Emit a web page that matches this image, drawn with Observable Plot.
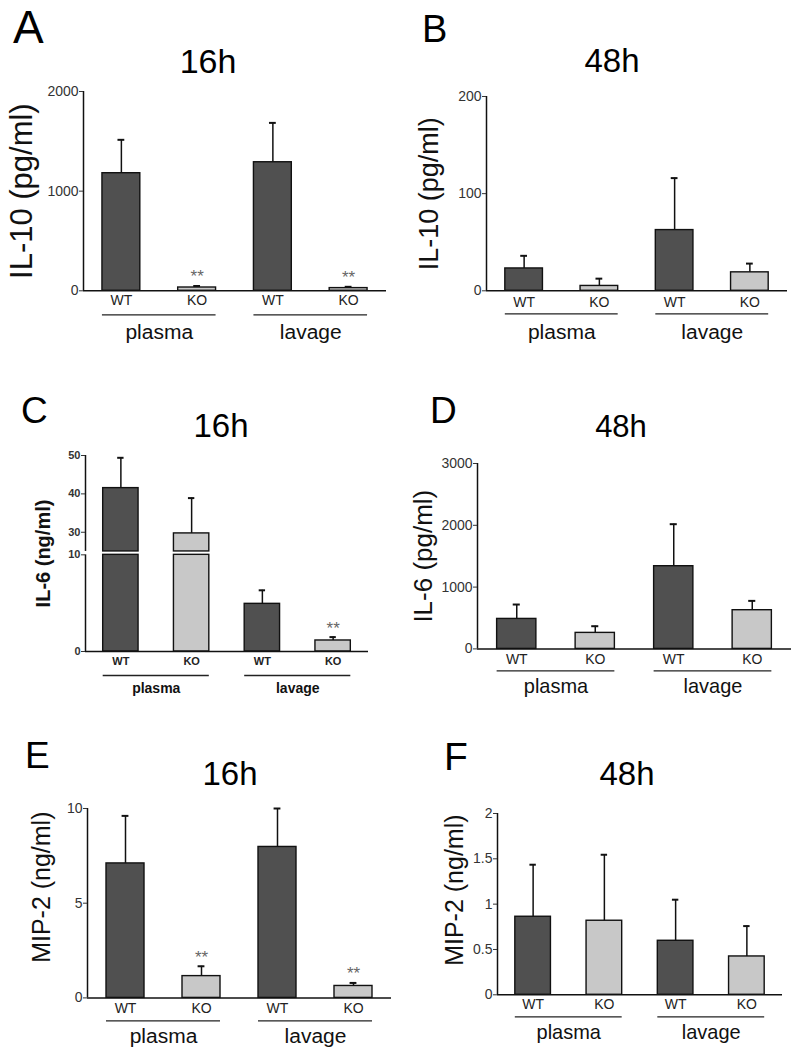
<!DOCTYPE html>
<html><head><meta charset="utf-8">
<script src="https://cdn.jsdelivr.net/npm/d3@7"></script>
<script src="https://cdn.jsdelivr.net/npm/@observablehq/plot@0.6"></script>
<style>
body{margin:0;background:#fff;}
#fig{position:relative;width:800px;height:1053px;overflow:hidden;font-family:"Liberation Sans",Arial,sans-serif;background:#fff;}
.panel{position:absolute;}
.lbl{position:absolute;line-height:1;white-space:nowrap;color:#000;}
</style></head><body><div id="fig"></div>
<script>
// ---- data ----
const categories = ["WT", "KO", "WT", "KO"];
const groups = ["plasma", "lavage"];
const groupOf = [0, 0, 1, 1];

const il10_16h_mean = [1180, 33, 1290, 27];
const il10_16h_sem  = [335, 15, 395, 13];
const il10_16h_sig  = ["", "**", "", "**"];

const il10_48h_mean = [23, 5, 62.5, 19];
const il10_48h_sem  = [13, 7.5, 53.5, 9];
const il10_48h_sig  = ["", "", "", ""];

const il6_16h_mean = [41.5, 29.7, 4.93, 1.14];
const il6_16h_sem  = [7.9, 9.2, 1.4, 0.35];
const il6_16h_sig  = ["", "", "", "**"];
const il6_16h_break = [10, 25];

const il6_48h_mean = [485, 259, 1338, 626];
const il6_48h_sem  = [233, 108, 680, 151];
const il6_48h_sig  = ["", "", "", ""];

const mip2_16h_mean = [7.1, 1.15, 7.97, 0.63];
const mip2_16h_sem  = [2.51, 0.52, 2.03, 0.16];
const mip2_16h_sig  = ["", "**", "", "**"];

const mip2_48h_mean = [0.861, 0.817, 0.596, 0.423];
const mip2_48h_sem  = [0.574, 0.728, 0.453, 0.335];
const mip2_48h_sig  = ["", "", "", ""];

// tick values per panel
const ticksA = [0, 1000, 2000];
const ticksB = [0, 100, 200];
const ticksC = [0, 10, 30, 40, 50];
const ticksD = [0, 1000, 2000, 3000];
const ticksE = [0, 5, 10];
const ticksF = [0, 0.5, 1, 1.5, 2];

// ---- layout ----
const FONT = '"Liberation Sans", Arial, sans-serif';
const DARK = "#505050", LIGHT = "#c8c8c8";
const HALF = 0.25, CAP = 0.045, MT = 12, W = 400;

const panels = [
  {letter: "A", lfs: 46, lx: 13, lb: 43, title: "16h", tfs: 34, tx: 208, tb: 73,
   left: 0, top: 90.7, bottom: 290, ml: 83, right: 386, mb: 58,
   mean: il10_16h_mean, sem: il10_16h_sem, sig: il10_16h_sig, domain: [0, 2000], ticks: ticksA,
   ylabel: "IL-10 (pg/ml)", yfs: 31, yoff: 74, ydy: 0, tfsTick: 14, xfs: 14, xpad: 4.5, gfs: 21, gdy: 32.8, gline: 24, bold: false},
  {letter: "B", lfs: 38, lx: 422, lb: 42, title: "48h", tfs: 33, tx: 612, tb: 72,
   left: 400, top: 95.7, bottom: 290, ml: 86, right: 787, mb: 58,
   mean: il10_48h_mean, sem: il10_48h_sem, sig: il10_48h_sig, domain: [0, 200], ticks: ticksB,
   ylabel: "IL-10 (pg/ml)", yfs: 27, yoff: 68, ydy: 0, tfsTick: 14, xfs: 14, xpad: 6, gfs: 21, gdy: 33, gline: 23, bold: false},
  {letter: "C", lfs: 37, lx: 21, lb: 423, title: "16h", tfs: 33, tx: 221, tb: 437,
   left: 0, top: 455, bottom: 651, ml: 85, right: 368, mb: 58,
   mean: il6_16h_mean, sem: il6_16h_sem, sig: il6_16h_sig, ticks: ticksC, brk: il6_16h_break, top50: 50,
   ylabel: "IL-6 (ng/ml)", yfs: 20, yoff: 50, ydy: 0, tfsTick: 11, xfs: 11, xpad: 5.2, gfs: 14, gdy: 31.8, gline: 24, bold: true},
  {letter: "D", lfs: 37, lx: 430, lb: 423, title: "48h", tfs: 31, tx: 621, tb: 437,
   left: 400, top: 463.3, bottom: 648.7, ml: 77, right: 791, mb: 58,
   mean: il6_48h_mean, sem: il6_48h_sem, sig: il6_48h_sig, domain: [0, 3000], ticks: ticksD,
   ylabel: "IL-6 (pg/ml)", yfs: 26, yoff: 64, ydy: 0, tfsTick: 14, xfs: 14, xpad: 5, gfs: 20, gdy: 29.8, gline: 22, bold: false},
  {letter: "E", lfs: 37, lx: 25, lb: 768, title: "16h", tfs: 33, tx: 230, tb: 785,
   left: 0, top: 808.3, bottom: 997.7, ml: 87, right: 391, mb: 54,
   mean: mip2_16h_mean, sem: mip2_16h_sem, sig: mip2_16h_sig, domain: [0, 10], ticks: ticksE,
   ylabel: "MIP-2 (ng/ml)", yfs: 25, yoff: 55, ydy: -16, tfsTick: 14, xfs: 14, xpad: 5, gfs: 21, gdy: 30, gline: 23, bold: false},
  {letter: "F", lfs: 39, lx: 444, lb: 770, title: "48h", tfs: 33, tx: 627, tb: 785,
   left: 400, top: 812.7, bottom: 994, ml: 97, right: 782, mb: 54,
   mean: mip2_48h_mean, sem: mip2_48h_sem, sig: mip2_48h_sig, domain: [0, 2], ticks: ticksF,
   ylabel: "MIP-2 (ng/ml)", yfs: 25, yoff: 52, ydy: -14, tfsTick: 14, xfs: 14, xpad: 4, gfs: 20, gdy: 29.8, gline: 22, bold: false}
];

const fig = document.getElementById("fig");

function addText(txt, fs, x, baseline, center) {
  const d = document.createElement("div");
  d.className = "lbl";
  d.textContent = txt;
  d.style.fontSize = fs + "px";
  d.style.top = (baseline - 0.8465 * fs) + "px";
  d.style.left = x + "px";
  if (center) d.style.transform = "translateX(-50%)";
  fig.appendChild(d);
}

function makePanel(p) {
  const data = categories.map((c, i) => ({
    pos: i, cat: c, mean: p.mean[i], sem: p.sem[i], top: p.mean[i] + p.sem[i], sig: p.sig[i]
  }));
  const gdata = groups.map((g, j) => {
    const idx = data.filter(d => groupOf[d.pos] === j).map(d => d.pos);
    return {name: g, start: d3.min(idx), end: d3.max(idx), mid: d3.mean(idx)};
  });
  const plotH = p.bottom - p.top;
  const height = MT + plotH + p.mb;
  const weight = p.bold ? "bold" : "normal";

  let yScale, yTicks = p.ticks, yFormat = d => String(d);
  if (p.brk) {
    // broken axis: lower segment 0..brk[0] at full scale, upper segment brk[1]..50 compressed
    const [lo, hi] = p.brk;
    const k = 0.397, gap = 0.35;
    const tf = v => v <= lo ? v : v < hi ? lo + (v - lo) / (hi - lo) * gap : lo + gap + (v - hi) * k;
    yScale = {transform: tf, domain: [0, tf(p.top50)], axis: null};
    // axis ticks are placed in the transformed space and labelled with the raw values
    const tickMap = new Map(p.ticks.map(v => [tf(v), v]));
    yTicks = p.ticks.map(tf);
    yFormat = t => String(tickMap.get(t));
  } else {
    yScale = {domain: p.domain, axis: null};
  }

  const marks = [];
  const barOpts = {x1: d => d.pos - HALF, x2: d => d.pos + HALF, fill: "cat", stroke: "#111", strokeWidth: 1.4};
  if (p.brk) {
    marks.push(Plot.rectY(data, {...barOpts, y1: 0, y2: d => Math.min(d.mean, p.brk[0])}));
    marks.push(Plot.rectY(data.filter(d => d.mean > p.brk[1]), {...barOpts, y1: p.brk[1], y2: "mean"}));
  } else {
    marks.push(Plot.rectY(data, {...barOpts, y1: 0, y2: "mean"}));
  }
  marks.push(
    Plot.ruleX(data, {x: "pos", y1: "mean", y2: "top", stroke: "#111", strokeWidth: 1.5}),
    Plot.ruleY(data, {y: "top", x1: d => d.pos - CAP, x2: d => d.pos + CAP, stroke: "#111", strokeWidth: 2}),
    Plot.ruleY([0], {stroke: "#111", strokeWidth: 1.5})
  );
  if (p.brk) {
    marks.push(Plot.ruleX([-0.5], {y1: 0, y2: p.brk[0], stroke: "#111", strokeWidth: 1.5}));
    marks.push(Plot.ruleX([-0.5], {y1: p.brk[1], y2: p.top50, stroke: "#111", strokeWidth: 1.5}));
  } else {
    marks.push(Plot.ruleX([-0.5], {stroke: "#111", strokeWidth: 1.5}));
  }
  marks.push(
    Plot.ruleY(gdata, {y: 0, x1: d => d.start - HALF, x2: d => d.end + HALF, dy: p.gline, stroke: "#222", strokeWidth: 1.3}),
    Plot.text(gdata, {x: "mid", y: 0, text: "name", dy: p.gdy, lineAnchor: "top", fontSize: p.gfs, fontWeight: weight, fill: "#111"}),
    Plot.text(data.filter(d => d.sig), {x: "pos", y: "top", text: "sig", dy: -9, lineAnchor: "middle", fontSize: 17, fill: "#666"}),
    Plot.axisX({ticks: [0, 1, 2, 3], tickFormat: i => categories[i], tickSize: 0, tickPadding: p.xpad, fontSize: p.xfs, fontWeight: weight, color: "#222", label: null}),
    Plot.axisY({ticks: yTicks, tickFormat: yFormat, tickSize: 4, tickPadding: 1, fontSize: p.tfsTick, fontWeight: weight, color: "#333", label: null}),
    Plot.text([p.ylabel], {text: d => d, frameAnchor: "left", rotate: -90, lineAnchor: "top", textAnchor: "middle", dx: -p.yoff, dy: p.ydy, fontSize: p.yfs, fontWeight: weight, fill: "#111"})
  );

  const chart = Plot.plot({
    width: W, height,
    marginLeft: p.ml, marginRight: p.left + W - p.right, marginTop: MT, marginBottom: p.mb,
    x: {domain: [-0.5, 3.5], axis: null},
    y: yScale,
    color: {domain: ["WT", "KO"], range: [DARK, LIGHT]},
    style: {fontFamily: FONT, background: "transparent", overflow: "visible", color: "#111"},
    marks
  });
  chart.classList.add("panel");
  chart.style.left = p.left + "px";
  chart.style.top = (p.top - MT) + "px";
  fig.appendChild(chart);

  addText(p.letter, p.lfs, p.lx, p.lb, false);
  addText(p.title, p.tfs, p.tx, p.tb, true);
}

panels.forEach(makePanel);
</script>
</body></html>
